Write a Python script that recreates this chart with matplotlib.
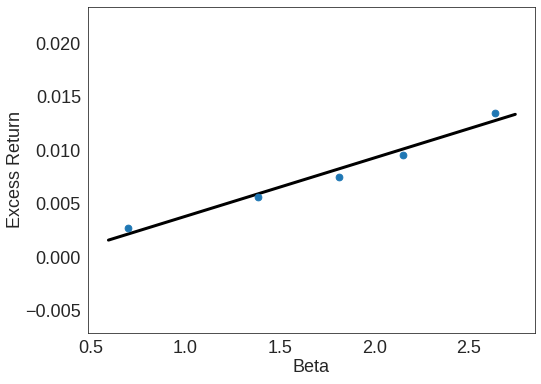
import matplotlib
matplotlib.use("Agg")
import matplotlib.pyplot as plt
import seaborn as sns
import numpy as np

beta = [0.699, 1.387, 1.811, 2.154, 2.640]
excess_return = [0.00268, 0.00558, 0.00754, 0.0096, 0.01352]
fit_x = [0.594, 2.746]
fit_y = [0.00159, 0.01336]

sns.set_style("white")
plt.rcParams['font.family'] = ['Liberation Sans', 'DejaVu Sans']

fig = plt.figure(figsize=(541/72, 384/72), dpi=72)
ax = fig.add_axes([88/541, 1-333/384, (535-88)/541, (333-7)/384])
ax.scatter(beta, excess_return, s=45, color='#1f77b4', zorder=3)
ax.plot(fit_x, fit_y, color='black', lw=3)
ax.set_xlim(0.486, 2.85)
ax.set_ylim(-0.0071, 0.0234)
ax.set_xticks([0.5, 1.0, 1.5, 2.0, 2.5])
ax.set_yticks([-0.005, 0.0, 0.005, 0.010, 0.015, 0.020])
ax.set_yticklabels(['\u22120.005', '0.000', '0.005', '0.010', '0.015', '0.020'])
ax.tick_params(labelsize=18, colors='.15')
ax.set_xlabel('Beta', fontsize=18, color='.15', labelpad=2)
ax.set_ylabel('Excess Return', fontsize=18, color='.15', labelpad=1)
for s in ax.spines.values():
    s.set_color('.15')
fig.savefig('out.png', dpi=72)
